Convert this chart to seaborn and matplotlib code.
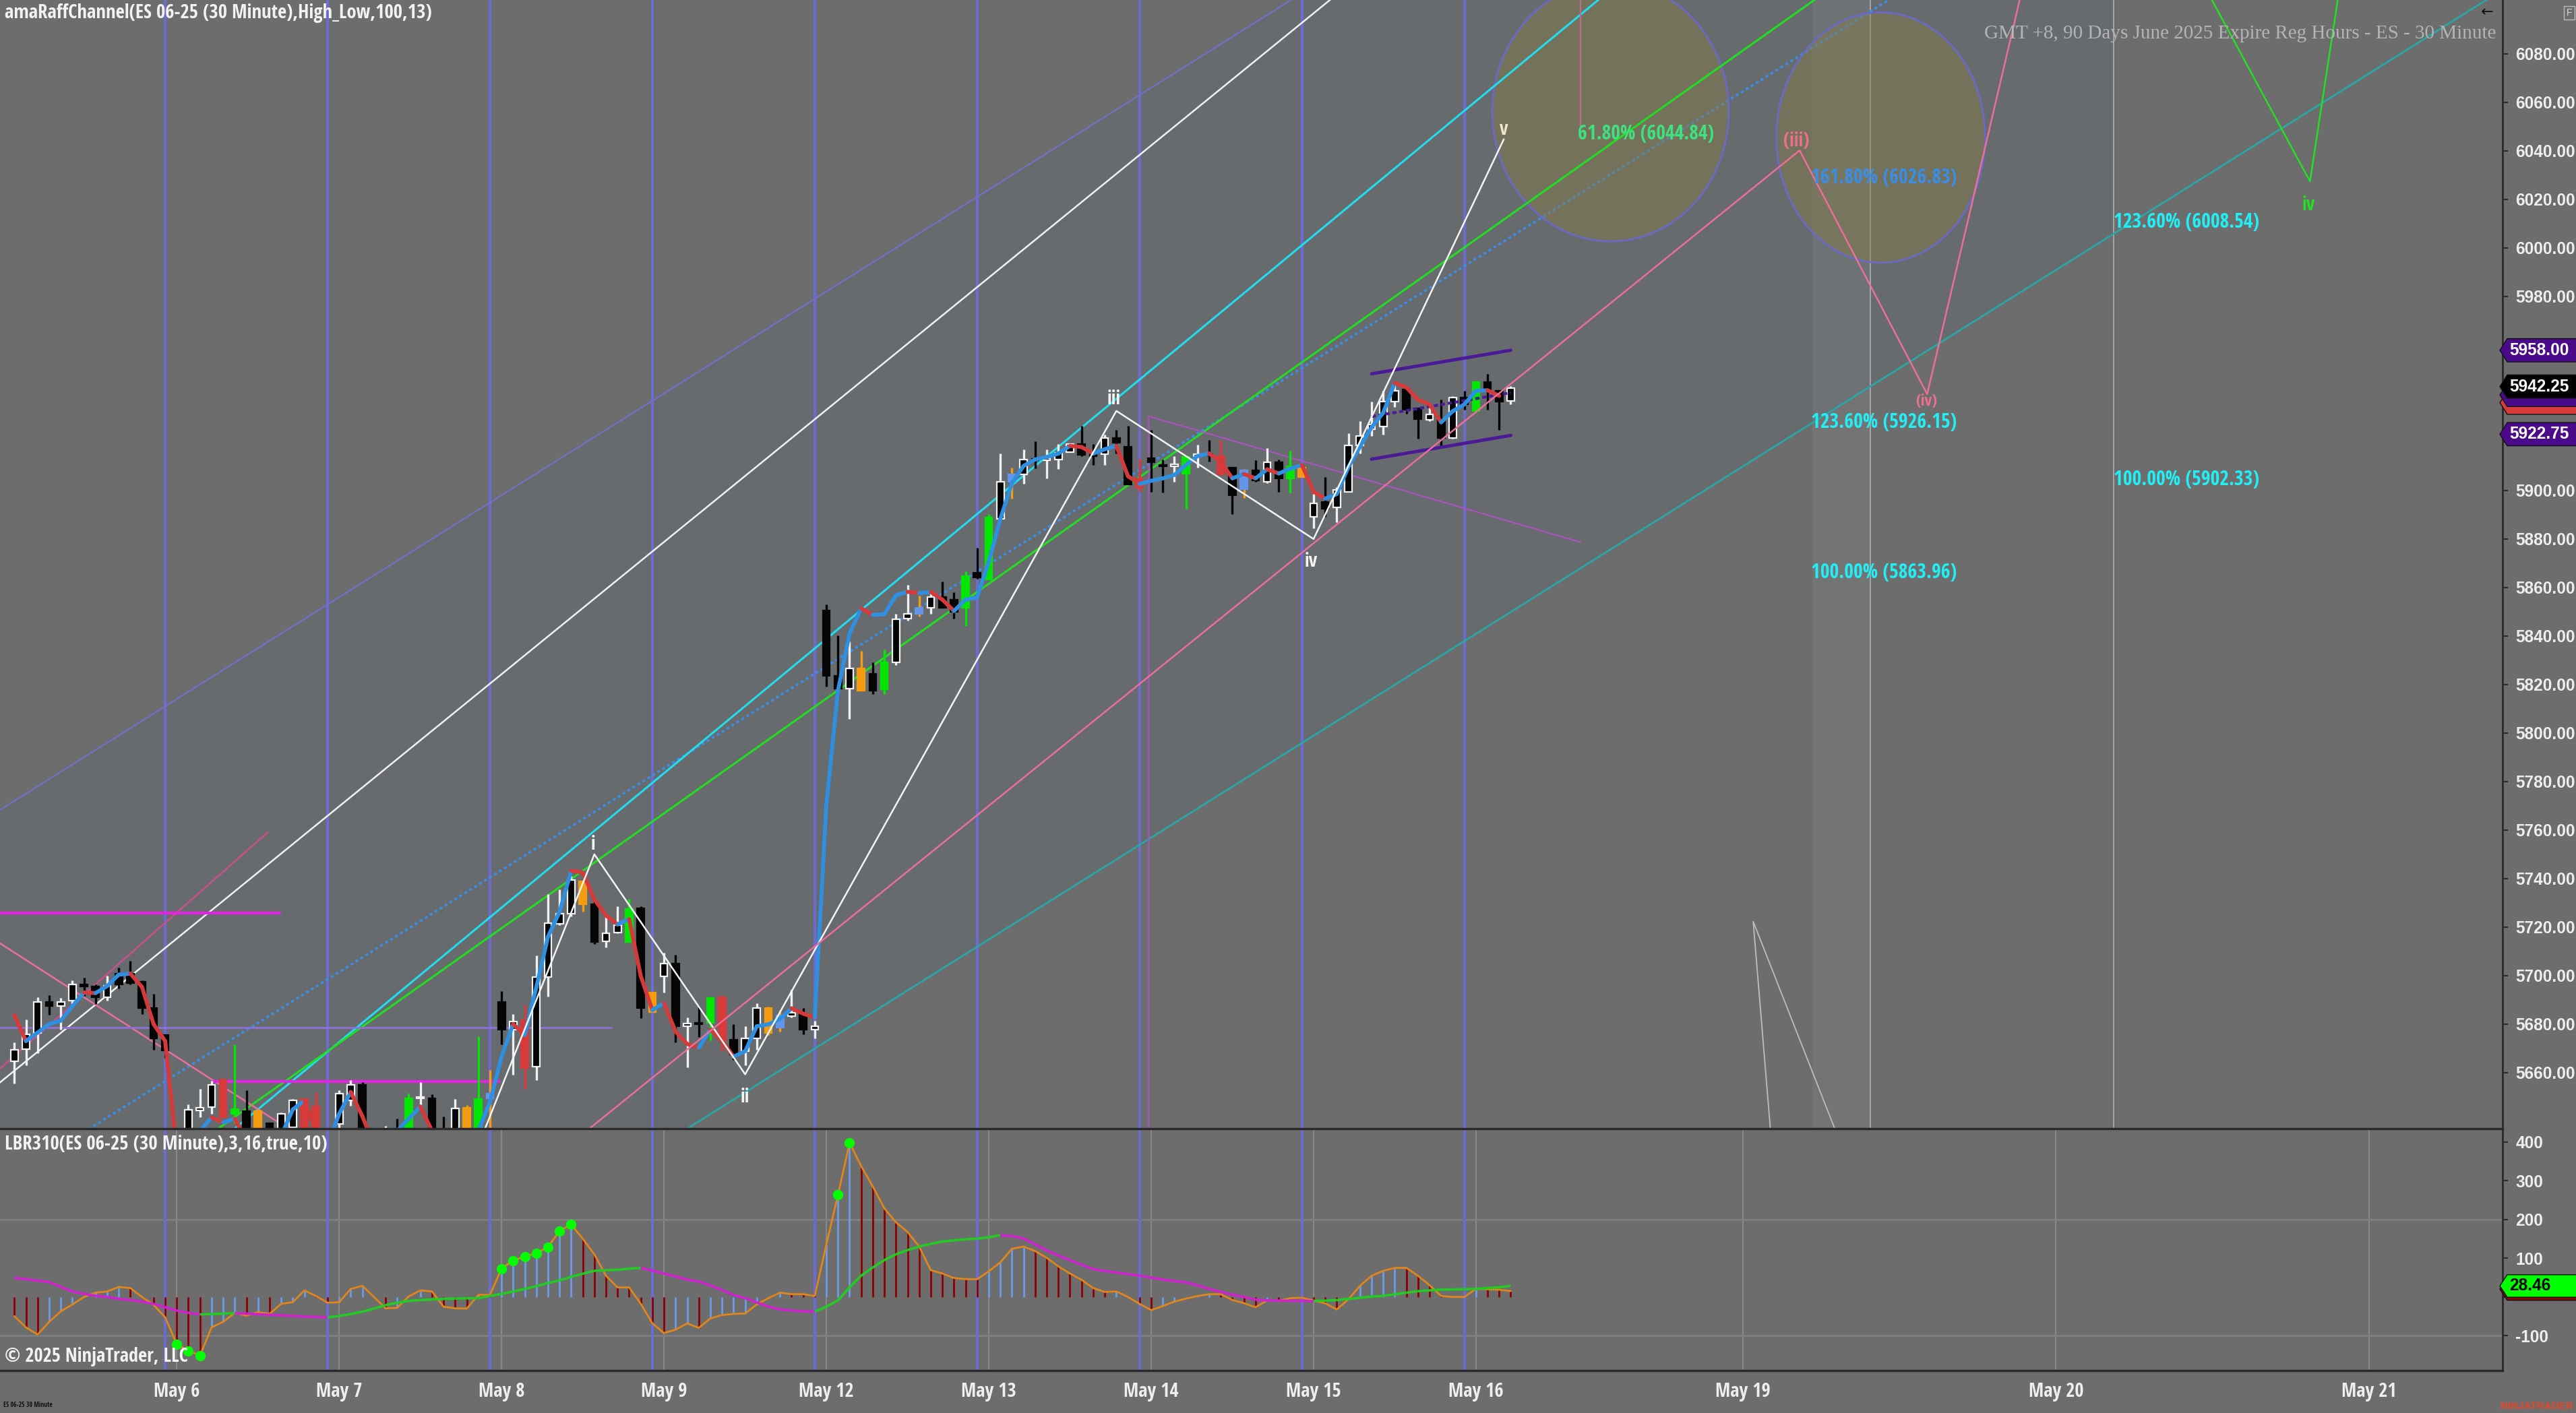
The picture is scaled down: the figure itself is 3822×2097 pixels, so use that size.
import numpy as np
import seaborn as sns
import matplotlib
matplotlib.use("Agg")
import matplotlib.pyplot as plt
import matplotlib.transforms as mtransforms
from matplotlib import font_manager
from matplotlib.font_manager import FontProperties
from matplotlib.collections import LineCollection
from matplotlib.patches import Ellipse, Polygon

# ES 06-25, 30 minute bars (RTH). bar index -13 .. 116, one row per session
FIRST_BAR = -13
OPEN = [5664.75, 5669.75, 5676.25, 5689.25, 5687.5, 5689.75, 5696.25, 5695.5, 5691, 5696.25, 5700.75, 5697.5, 5686.5, 5675.5,
        5632, 5622, 5644.5, 5645.75, 5657.25, 5643, 5644, 5634, 5639, 5630, 5637.5, 5649, 5646, 5634,
        5638.75, 5648.5, 5655, 5634, 5626, 5636, 5632, 5649.5, 5649.5, 5634, 5631, 5636, 5636, 5649.5,
        5689.25, 5677.75, 5681.5, 5662.5, 5699.5, 5721.25, 5725.5, 5738.75, 5729.5, 5714.25, 5717.75, 5713.75, 5727.75, 5693,
        5699.75, 5705, 5679.25, 5680.5, 5680.5, 5691, 5673.5, 5668.75, 5674, 5686.75, 5678.5, 5683.25, 5684.25, 5677.75,
        5850.5, 5823.5, 5818.25, 5826.5, 5824.5, 5818, 5829.25, 5847.25, 5849.25, 5851.5, 5856, 5855, 5851.5, 5866,
        5863.25, 5888.25, 5903.5, 5906.75, 5913, 5912.5, 5912.75, 5915.75, 5919.25, 5915, 5915, 5921.5, 5918, 5905,
        5913.25, 5910.5, 5910, 5907, 5914, 5915, 5914.25, 5909.5, 5900.5, 5908.25, 5903.5, 5911.5, 5905, 5909.5,
        5889.25, 5895.25, 5893, 5899.5, 5918.5, 5925.25, 5926.25, 5936.5, 5941.5, 5933.75, 5929, 5929, 5921.5, 5938.25,
        5932.75, 5944.75, 5941, 5937]
HIGH = [5672.5, 5682, 5691, 5692, 5690.75, 5698, 5699, 5696.25, 5700, 5703.25, 5706, 5698, 5692.5, 5675.5,
        5635, 5647, 5653.25, 5656.5, 5657.25, 5671.75, 5652.75, 5645, 5639.5, 5643.5, 5649, 5649.5, 5652, 5636,
        5652.75, 5657, 5656, 5636, 5638, 5641, 5651.25, 5656, 5651, 5642, 5649, 5646.75, 5675, 5661,
        5693.5, 5684.25, 5688, 5708.25, 5733.5, 5735.5, 5741, 5739.5, 5730.5, 5724, 5728.5, 5731.75, 5728.5, 5693,
        5709.5, 5708.5, 5682.75, 5687.25, 5691, 5692, 5680, 5679, 5688.5, 5687.25, 5685.75, 5694, 5686.75, 5681.25,
        5853, 5840.25, 5837.75, 5833.75, 5829.25, 5834.5, 5849.25, 5861, 5856.5, 5857.5, 5862.5, 5858, 5866.5, 5876.25,
        5890.25, 5915.25, 5909.5, 5917, 5920.25, 5917, 5919.25, 5919, 5926.75, 5919, 5923, 5925, 5926.75, 5913,
        5925, 5912.75, 5914.25, 5914.25, 5918.75, 5920.75, 5920.75, 5909.5, 5908.75, 5912.5, 5917.5, 5912.75, 5916.25, 5911,
        5898.5, 5905.5, 5901.25, 5923.5, 5928.5, 5936.5, 5941, 5944.25, 5942.5, 5934, 5934.5, 5937.5, 5938.75, 5941,
        5945.25, 5948, 5941, 5943]
LOW = [5655.5, 5663, 5668, 5683.75, 5677.75, 5687.5, 5691.5, 5688.25, 5689.75, 5694.75, 5696.25, 5684.25, 5669.5, 5666,
       5615, 5620, 5641.5, 5643, 5641.5, 5639.25, 5630, 5630, 5625, 5628, 5636, 5634, 5633, 5625,
       5634, 5646.25, 5630, 5622, 5624, 5625, 5630, 5645, 5630, 5628, 5629, 5634, 5634, 5636,
       5671.75, 5659.25, 5653.25, 5657, 5691.25, 5720.75, 5724.5, 5726.25, 5713, 5711.5, 5717.5, 5713.75, 5682.5, 5685,
       5693, 5672.5, 5662.25, 5674.75, 5673.25, 5668.75, 5665.25, 5663, 5669.5, 5675.5, 5677, 5682.75, 5675.75, 5674,
       5819, 5814.5, 5805.75, 5817.5, 5816, 5816, 5828, 5846.25, 5848, 5849.25, 5851.5, 5847.25, 5844, 5863.5,
       5863.25, 5887.75, 5896.5, 5902.75, 5909, 5905, 5908.75, 5915.75, 5914.25, 5910.5, 5910.5, 5915.25, 5902.5, 5899.5,
       5899.5, 5899, 5903.5, 5892.5, 5909.5, 5912, 5906.5, 5890.25, 5897, 5903.5, 5903, 5899.5, 5899, 5905.5,
       5884.5, 5889.25, 5887, 5899.5, 5915.25, 5922.5, 5923, 5934.5, 5931.5, 5921.25, 5928.5, 5917.5, 5921.25, 5933.25,
       5932.25, 5933.25, 5925, 5935.5]
CLOSE = [5669.5, 5675.75, 5689.25, 5687.5, 5689.25, 5696.25, 5695.5, 5691, 5695.75, 5700.75, 5697, 5686.5, 5674, 5669,
         5622, 5644.75, 5645.5, 5655, 5641.5, 5645, 5634, 5644, 5630, 5643, 5648.5, 5636, 5636, 5630,
         5651.25, 5655, 5634, 5626, 5636, 5630, 5649.5, 5650, 5634, 5631, 5645.25, 5645.5, 5649, 5651.25,
         5677.75, 5681, 5662, 5699.5, 5721.5, 5725.5, 5739.5, 5729.5, 5713.75, 5717.5, 5720.75, 5727.5, 5686.5, 5685,
         5705, 5679, 5680.25, 5680, 5690.75, 5673.25, 5667.5, 5674, 5686.75, 5676.25, 5683.5, 5684.75, 5677.75, 5679,
         5823.5, 5818.25, 5826.5, 5817.5, 5817.5, 5829, 5847, 5849, 5851.5, 5856, 5851.5, 5850, 5864.75, 5864,
         5888.75, 5903.5, 5906.75, 5912.75, 5912.5, 5913.25, 5915.5, 5919, 5914.75, 5914, 5921.5, 5919.75, 5902.5, 5901,
         5911.5, 5910, 5910.75, 5913.75, 5915, 5914.5, 5906.75, 5898, 5908.25, 5904, 5911.5, 5905, 5910, 5905.5,
         5894.75, 5892.5, 5900.25, 5918.5, 5922.5, 5927.25, 5936.5, 5941, 5933.25, 5929.5, 5931.25, 5921.5, 5938.25, 5935.5,
         5944.75, 5941.5, 5936.5, 5942.25]
# u = up, d = down, g/r/o = painted green/red/orange, b = cornflower body
BAR_KIND = ("uuuduuddudddd" "d"
            "duuurgdoduurrd"
            "uuddudgudduogb"
            "duruuuuoduugdo"
            "ududgrduuobudu"
            "dduodguubuddgd"
            "gubuduuudduddr"
            "ddugudrdbdudgo"
            "uduuuuuuddudud"
            "gddu")

# trend line drawn over the bars
TREND = [5683.7, 5673, 5676.5, 5680, 5681.4, 5687.4, 5693, 5692.8, 5695.7, 5700.4, 5700.8, 5695.3, 5680, 5673,
         5628, 5627, 5636, 5641.5, 5639.5, 5641, 5632, 5628, 5626, 5634, 5644.8, 5648.5, 5636, 5630,
         5643, 5652, 5642, 5630, 5628, 5636, 5641, 5646, 5636, 5630, 5629, 5628, 5636, 5648,
         5666.5, 5680, 5675.5, 5695.3, 5716, 5726.3, 5743.2, 5742.5, 5731.4, 5724.8, 5721.1, 5723.3, 5699.8, 5685.8,
         5688.7, 5676.9, 5671.8, 5670.3, 5677.7, 5673.2, 5666.6, 5668.8, 5679.1, 5679.9, 5682.1, 5686.5, 5684.3, 5682.8,
         5770.4, 5817.5, 5841, 5851.4, 5848.7, 5849, 5856.8, 5858.2, 5857.7, 5858.2, 5855, 5850.3, 5855, 5855.9,
         5870.7, 5888.3, 5903.1, 5910.1, 5912.8, 5913.8, 5915.2, 5918.4, 5917.9, 5915.2, 5917, 5918.4, 5905.9, 5902.7,
         5904, 5905, 5906.4, 5910.5, 5914.2, 5915.2, 5911.9, 5905, 5906.8, 5905, 5908.7, 5907, 5909, 5910.5,
         5899.5, 5896.6, 5898.5, 5909.6, 5918, 5926, 5932, 5944.3, 5942.5, 5937.4, 5935.5, 5928.1, 5932.7, 5935.5,
         5941.1, 5941.3, 5939, np.nan]

# LBR310 oscillator, its slow line and the signal dots
OSC = [-49.5, -78.5, -97, -64, -37, -19.4, 0, 11.3, 14.2, 25.8, 22.9, 0, -20.6, -52.5,
       -122, -139, -151, -78.5, -64, -41, -48.4, -39, -43.7, -17.7, -13.6, 17, 2.6, -14.8,
       -13.6, 21, 28.7, 0, -29.3, -28, 1.7, 17, 14.2, -25.2, -29.3, -29.9, 5.5, 5.5,
       73.3, 94.1, 104, 112.7, 128.9, 170.6, 186.8, 150.3, 109.8, 54.7, 24.6, 24.6, -17.7, -68.1,
       -93, -84.3, -68.1, -79.7, -55.3, -46.6, -43.7, -42.6, -19.4, -3, 11.3, 7.2, 7.2, 2.6,
       135.8, 263.3, 397.7, 337.5, 285.3, 228.6, 192.6, 167.7, 130, 69.2, 60.5, 48.9, 46, 46,
       66.3, 89.5, 124.3, 130, 118.5, 101, 79.1, 60.5, 44.3, 22.9, 13, 14.2, 0, -17.7,
       -33.9, -23.5, -12, -4.4, 2.6, 7.2, 7.2, -7.8, -16, -26.4, -9, -10.1, -3, -1.9,
       -9, -16.5, -32.2, -6.1, 28.7, 54.7, 67.5, 75, 75, 54.7, 30.4, 2.6, 0, 0,
       21.1, 20, 18.8, 15.3]
SLOW = [49, 46, 42, 38.5, 26, 14.2, 8, 3, 0, -5, -8, -12, -18, -26.4,
        -35, -41, -45, -44, -43, -42, -43, -44.5, -46, -47.5, -49, -50.5, -51.5, -52.5,
        -49, -44, -38, -30, -21, -15, -10, -8, -6.5, -5, -4, -3.5, -3, 2.6,
        8, 14, 21, 28, 36, 43, 52, 60, 67.5, 69, 70, 73, 75, 68,
        60.5, 53, 45, 40, 30, 18, 5, -3, -14, -25, -32, -35, -37, -38,
        -25, -9, 25, 55, 76, 95, 110, 121, 130, 137, 143, 146, 149, 150.5,
        154, 159.5, 157, 151, 136, 120, 107, 95, 83, 72, 67, 63, 59, 55,
        50, 45, 41, 37.5, 30, 21, 13, 6, 0, -7, -9, -9.5, -10, -10.2,
        -10.4, -9.5, -8, -5, -2, 1, 3, 7, 11, 15, 17, 19, 19.5, 20,
        21, 23, 25, 28.46]
DOT_BARS = [1, 2, 3, 29, 30, 31, 32, 33, 34, 35, 58, 59]

# x axis
DATE_LABELS = ["May 6", "May 7", "May 8", "May 9", "May 12", "May 13", "May 14", "May 15", "May 16",
               "May 19", "May 20", "May 21"]
DATE_BARS = [1, 15, 29, 43, 57, 71, 85, 99, 113, 136, 163, 190]
SESSION_BARS = [0, 14, 28, 42, 56, 70, 84, 98, 112]
PRICE_TICKS = [5660, 5680, 5700, 5720, 5740, 5760, 5780, 5800, 5820, 5840, 5860, 5880, 5900,
               5920, 5940, 5960, 5980, 6000, 6020, 6040, 6060, 6080]
HIDDEN_PRICE_TICKS = [5920, 5940, 5960]
OSC_TICKS = [400, 300, 200, 100, 0, -100]

# raff channel (two end points each)
RAFF_BARS = [-15, 202]
RAFF_UPPER = [5766, 6417]
RAFF_MID = [5611.5, 6262.5]
RAFF_LOWER = [5456.9, 6107.9]

# drawn trend lines: (bars, prices)
CYAN_LINE = ([5, 125], [5633, 6108])
GREEN_LINE = ([4, 143], [5635, 6105])
WHITE_LINE = ([-15, 101], [5653, 6104.5])
ORCHID_LINE = ([-14.3, 8.85], [5661.4, 5759.1])
PINK_DOWN_LINE = ([-14.3, 12], [5713.5, 5632.6])
VIOLET_LINE = ([84.8, 84.8, 122], [5625, 5930.6, 5878.7])
GRAY_V = ([138.5, 136.9, 144.5], [5630, 5722.3, 5630])
LEVEL_HI = (5725.7, -15, 10)
LEVEL_LO = (5656.3, 4, 28.9)
LEVEL_MID = (5678.5, -15, 38.5)

# elliott waves
WAVE_BARS = [27, 37, 50, 82, 99, 115.4]
WAVE_PRICES = [5630, 5750, 5659.3, 5932.8, 5880, 6044.8]
PINK_WAVE_BARS = [36, 140.9, 151.9, 160.5]
PINK_WAVE_PRICES = [5634.7, 6040.2, 5939.7, 6115]
GREEN_WAVE_BARS = [175, 184.9, 187.7]
GREEN_WAVE_PRICES = [6115, 6027.4, 6115]
WAVE_TEXT = ["i", "ii", "iii", "iv", "v", "(iii)", "(iv)", "iv"]
WAVE_TEXT_BARS = [36.9, 50, 81.8, 98.8, 115.4, 140.6, 151.8, 184.8]
WAVE_TEXT_PRICES = [5754.1, 5649.8, 5937.6, 5870.6, 6048.7, 6044, 5936.5, 6017.6]

# regression channel on the last bars
REG_BARS = [104, 116]
REG_UPPER = [5948.1, 5957.8]
REG_MID = [5930.5, 5940.3]
REG_LOWER = [5912.9, 5922.7]

# time/price targets
ZONE_CENTERS = [(124.6, 6056.2), (147.9, 6045.5)]
ZONE_HALF_BARS = [10.2, 9.0]
ZONE_HALF_PTS = [53.5, 51.6]
FIB_TEXT = ["61.80% (6044.84)", "161.80% (6026.83)", "123.60% (6008.54)",
            "123.60% (5926.15)", "100.00% (5902.33)", "100.00% (5863.96)"]
FIB_BARS = [121.8, 141.9, 168, 141.9, 168, 141.9]
FIB_PRICES = [6044.84, 6026.83, 6008.54, 5926.15, 5902.33, 5863.96]

LAST_PRICE = 5942.25
LAST_SLOW = 28.46

BG = "#6d6d6d"
sns.set_style("dark", {"axes.facecolor": BG, "figure.facecolor": BG})
plt.rcParams["font.family"] = ["Liberation Sans", "DejaVu Sans"]


def weight_num(w):
    if isinstance(w, (int, float)):
        return int(w)
    return {"bold": 700, "semibold": 600, "demibold": 600, "demi": 600, "heavy": 800,
            "extra bold": 800, "black": 900, "medium": 500}.get(str(w).lower(), 400)


def narrow_bold():
    # the chart uses a condensed bold face; take the first one installed as a static bold file
    prefs = ["Open Sans Condensed", "Roboto Condensed", "Fira Sans Condensed", "IBM Plex Sans Condensed",
             "Barlow Semi Condensed", "PT Sans Narrow", "Archivo Narrow", "Encode Sans Condensed",
             "Asap Condensed", "Saira SemiCondensed", "Liberation Sans Narrow"]
    fonts = font_manager.fontManager.ttflist
    for name in prefs:
        cands = [(abs(weight_num(f.weight) - 700), f.fname) for f in fonts
                 if f.name == name and f.style == "normal" and weight_num(f.weight) >= 600 and "[" not in f.fname]
        if cands:
            return FontProperties(fname=sorted(cands)[0][1])
    return FontProperties(family="Liberation Sans", weight="bold")


NARROW_FP = narrow_bold()

W, H = 3823, 2097
fig = plt.figure(figsize=(W / 100, H / 100), dpi=100)
fig.patch.set_facecolor(BG)
renderer = fig.canvas.get_renderer()


def sized(fp, size):
    p = fp.copy()
    p.set_size(size)
    return p


def fit_fp(text, width_px, fp, base=20):
    t = fig.text(0, 0, text, fontproperties=sized(fp, base))
    w = t.get_window_extent(renderer).width
    t.remove()
    return sized(fp, base * width_px / w)


TICK_FP = FontProperties(family="Liberation Sans", weight="bold")
SERIF_FP = FontProperties(family=["Liberation Serif", "DejaVu Serif"])
FP_TITLE = fit_fp("amaRaffChannel(ES 06-25 (30 Minute),High_Low,100,13)", 636, NARROW_FP)
FP_PANEL = fit_fp("LBR310(ES 06-25 (30 Minute),3,16,true,10)", 480, NARROW_FP)
FP_COPY = fit_fp("\u00a9 2025 NinjaTrader, LLC", 272, NARROW_FP)
FP_DATE = fit_fp("May 12", 82, NARROW_FP)
FP_FIB = fit_fp("123.60% (6008.54)", 216, NARROW_FP)
FP_WAVE = fit_fp("iii", 20, NARROW_FP)
FP_WAVE_SMALL = sized(FP_WAVE, FP_WAVE.get_size() * 0.85)
FP_GMT = fit_fp("GMT +8, 90 Days June 2025 Expire Reg Hours - ES - 30 Minute", 760, SERIF_FP)
FP_TICK = fit_fp("6080.00", 89, TICK_FP)
FP_SMALL = sized(NARROW_FP, 7)

ax = fig.add_axes([0, 1 - 1675 / H, 3713 / W, 1675 / H])
axi = fig.add_axes([0, 1 - 2034 / H, 3713 / W, (2034 - 1675) / H], sharex=ax)
XMIN, XMAX = -14.24, 201.5

bars = np.arange(FIRST_BAR, FIRST_BAR + len(OPEN))
o, h, l, c = (np.array(v, dtype=float) for v in (OPEN, HIGH, LOW, CLOSE))

# --- background pieces ---
fill_x = np.array([RAFF_BARS[0], 168])
ax.fill_between(fill_x, np.interp(fill_x, RAFF_BARS, RAFF_LOWER), np.interp(fill_x, RAFF_BARS, RAFF_UPPER),
                color="#4f6372", alpha=0.2, lw=0, zorder=0)
ax.axvspan(142, 147, color="white", alpha=0.05, lw=0, zorder=0)
for xv in (147, 168):
    ax.axvline(xv, color="#a6a6a6", lw=1.4, zorder=1)
for xv in DATE_BARS:
    axi.axvline(xv, color="#8e8e8e", lw=1.2, zorder=0)
for xv in SESSION_BARS:
    ax.axvline(xv, color="#6b6bd0", lw=3, zorder=1)
    axi.axvline(xv, color="#6b6bd0", lw=3, zorder=1)

# --- channel and drawn lines ---
ax.plot(RAFF_BARS, RAFF_UPPER, color="#7070c8", lw=1.6, zorder=2)
ax.plot(RAFF_BARS, RAFF_MID, color="#3a8ee6", lw=2.6, ls=(0, (1.2, 1.2)), zorder=2)
ax.plot(RAFF_BARS, RAFF_LOWER, color="#2aa6a6", lw=2.0, zorder=2)
ax.plot(*CYAN_LINE, color="#22dcf0", lw=2.2, zorder=3)
ax.plot(*GREEN_LINE, color="#22dd22", lw=2.2, zorder=3)
ax.plot(*WHITE_LINE, color="#f2f2f2", lw=1.8, zorder=3)
ax.plot(*ORCHID_LINE, color="#c8508c", lw=1.8, zorder=3)
ax.plot(*PINK_DOWN_LINE, color="#e8709a", lw=1.8, zorder=3)
ax.plot(*VIOLET_LINE, color="#b050c8", lw=1.4, zorder=3)
ax.plot(*GRAY_V, color="#bdbdbd", lw=1.3, zorder=3)
ax.plot([122, 122], [6046, 6110], color="#c06a8c", lw=1.5, zorder=3)
ax.hlines(LEVEL_HI[0], LEVEL_HI[1], LEVEL_HI[2], color="#e622e6", lw=3, zorder=3)
ax.hlines(LEVEL_LO[0], LEVEL_LO[1], LEVEL_LO[2], color="#e622e6", lw=3, zorder=3)
ax.hlines(LEVEL_MID[0], LEVEL_MID[1], LEVEL_MID[2], color="#9070d8", lw=2, zorder=3)

for (cx, cy), hw, hh in zip(ZONE_CENTERS, ZONE_HALF_BARS, ZONE_HALF_PTS):
    ax.add_patch(Ellipse((cx, cy), 2 * hw, 2 * hh, facecolor=(0.54, 0.49, 0.27, 0.42),
                         edgecolor="#6a6ac4", lw=2, zorder=2))

# --- candles ---
face = {"u": "#050505", "d": "#050505", "g": "#00e600", "r": "#d63a3a", "o": "#f39c12", "b": "#6495ed"}
edge = {"u": "#f0f0f0", "d": "#050505", "g": "#00e600", "r": "#d63a3a", "o": "#f39c12", "b": "#6495ed"}
wick = {"u": "#f0f0f0", "d": "#050505", "g": "#00e600", "r": "#d63a3a", "o": "#f39c12", "b": "#f39c12"}
kinds = list(BAR_KIND)
ax.vlines(bars, l, h, colors=[wick[k] for k in kinds], lw=2.4, zorder=5)
ax.bar(bars, np.maximum(np.abs(c - o), 0.5), bottom=np.minimum(o, c), width=0.62,
       color=[face[k] for k in kinds], edgecolor=[edge[k] for k in kinds], linewidth=1.6, zorder=6)

# trend line coloured by slope
tr = np.array(TREND, dtype=float)
segs, cols = [], []
for i in range(len(tr) - 1):
    if np.isnan(tr[i + 1]):
        continue
    segs.append([(bars[i], tr[i]), (bars[i + 1], tr[i + 1])])
    cols.append("#2f8fe0" if tr[i + 1] > tr[i] else "#d43a3a")
ax.add_collection(LineCollection(segs, colors=cols, linewidths=4.2, zorder=8, capstyle="round"))

# waves
sns.lineplot(x=WAVE_BARS, y=WAVE_PRICES, ax=ax, color="#f4f4f4", lw=1.8, sort=False, estimator=None, zorder=9)
sns.lineplot(x=PINK_WAVE_BARS, y=PINK_WAVE_PRICES, ax=ax, color="#ea6f9a", lw=1.8, sort=False, estimator=None, zorder=9)
sns.lineplot(x=GREEN_WAVE_BARS, y=GREEN_WAVE_PRICES, ax=ax, color="#22e022", lw=1.8, sort=False, estimator=None, zorder=9)
wave_colors = ["#f4f4f4"] * 4 + ["#efe6cc", "#ec6f8c", "#ec6f8c", "#22e022"]
for t, xb, yp, col in zip(WAVE_TEXT, WAVE_TEXT_BARS, WAVE_TEXT_PRICES, wave_colors):
    fp = FP_WAVE_SMALL if t == "(iv)" else FP_WAVE
    ax.text(xb, yp, t, color=col, fontproperties=fp, ha="center", va="center", zorder=10)

# regression channel
ax.plot(REG_BARS, REG_UPPER, color="#4b1a96", lw=3.5, zorder=7)
ax.plot(REG_BARS, REG_LOWER, color="#4b1a96", lw=3.5, zorder=7)
ax.plot(REG_BARS, REG_MID, color="#4b1a96", lw=3.0, ls=(0, (1.5, 1)), zorder=7)

fib_colors = ["#3fe07e", "#3a8ee6", "#22eef5", "#22eef5", "#22eef5", "#22eef5"]
for t, xb, yp, col in zip(FIB_TEXT, FIB_BARS, FIB_PRICES, fib_colors):
    ax.text(xb, yp + 2.0, t, color=col, fontproperties=FP_FIB, ha="left", va="center", zorder=10)

# --- oscillator panel ---
osc = np.array(OSC, dtype=float)
up = np.r_[False, osc[1:] > osc[:-1]]
axi.axhline(200, color="#7f7f7f", lw=2, zorder=0)
axi.axhline(-100, color="#7f7f7f", lw=2, zorder=0)
axi.vlines(bars, 0, osc, colors=np.where(up, "#6d9be8", "#8b0000"), lw=2.0, zorder=3)
sns.lineplot(x=bars, y=osc, ax=axi, color="#e0861a", lw=2.0, estimator=None, zorder=4)
slow = np.array(SLOW, dtype=float)
ssegs = [[(bars[i], slow[i]), (bars[i + 1], slow[i + 1])] for i in range(len(slow) - 1)]
scols = ["#22cc22" if slow[i + 1] > slow[i] else "#d020d0" for i in range(len(slow) - 1)]
axi.add_collection(LineCollection(ssegs, colors=scols, linewidths=2.6, zorder=5))
dots = np.isin(bars, DOT_BARS)
axi.plot(bars[dots], osc[dots], ls="none", marker="o", ms=10, mfc="#00ff00", mec="#00ff00", zorder=6)

# --- axes ---
for a in (ax, axi):
    a.grid(False)
    a.set_facecolor(BG)
    for s in ("left", "top", "bottom"):
        a.spines[s].set_visible(False)
    a.spines["right"].set_color("#2a2a2a")
    a.spines["right"].set_linewidth(2)
    a.yaxis.tick_right()
    a.tick_params(axis="y", direction="out", length=6, width=1.5, color="#2a2a2a",
                  labelcolor="#eeeeee", pad=8)
axi.spines["top"].set_visible(True)
axi.spines["bottom"].set_visible(True)
for s in ("top", "bottom"):
    axi.spines[s].set_color("#2a2a2a")
    axi.spines[s].set_linewidth(2.5)

ax.set_yticks(PRICE_TICKS)
ax.set_yticklabels(["" if v in HIDDEN_PRICE_TICKS else f"{v:.2f}" for v in PRICE_TICKS])
axi.set_yticks(OSC_TICKS)
axi.set_yticklabels(["" if v == 0 else str(v) for v in OSC_TICKS])
for lab in ax.get_yticklabels() + axi.get_yticklabels():
    lab.set_fontproperties(FP_TICK)
ax.tick_params(axis="x", bottom=False, labelbottom=False)
axi.set_xticks(DATE_BARS)
axi.set_xticklabels(DATE_LABELS)
axi.tick_params(axis="x", direction="out", length=6, width=1.5, color="#2a2a2a",
                labelcolor="#eeeeee", pad=6)
for lab in axi.get_xticklabels():
    lab.set_fontproperties(FP_DATE)
for a in (ax, axi):
    a.set_xlabel("")
    a.set_ylabel("")


def price_tag(a, y, text, fc, fg, half):
    trans = mtransforms.blended_transform_factory(fig.transFigure, a.transData)
    x0, x1 = 3709 / W, 3720 / W
    a.add_patch(Polygon([[x0, y], [x1, y + half], [1.0, y + half], [1.0, y - half], [x1, y - half]],
                        closed=True, transform=trans, fc=fc, ec="#111111", lw=1, clip_on=False, zorder=20))
    if text:
        a.text(3723 / W, y, text, transform=trans, color=fg, fontproperties=FP_TICK,
               ha="left", va="center", clip_on=False, zorder=21)


price_tag(ax, REG_UPPER[1], f"{REG_UPPER[1] + 0.2:.2f}", "#4b0a8a", "white", 4.8)
price_tag(ax, 5936.2, "", "#d63a3a", "white", 4.8)
price_tag(ax, 5939.4, "", "#4b0a8a", "white", 4.8)
price_tag(ax, LAST_PRICE + 0.6, f"{LAST_PRICE:.2f}", "#000000", "white", 4.8)
price_tag(ax, REG_LOWER[1] + 0.5, f"{REG_LOWER[1] + 0.05:.2f}", "#4b0a8a", "white", 4.8)
price_tag(axi, LAST_SLOW - 8, "", "#8b0000", "white", 29)
price_tag(axi, LAST_SLOW, f"{LAST_SLOW:.2f}", "#00ff00", "black", 29)
ax.set_xlim(XMIN, XMAX)
ax.set_ylim(5636.9, 6102.2)
axi.set_ylim(-189.8, 434.2)

# --- texts ---
fig.text(7 / W, 1 - 20 / H, "amaRaffChannel(ES 06-25 (30 Minute),High_Low,100,13)", color="#f2f2f2",
         fontproperties=FP_TITLE, ha="left", va="center")
fig.text(7 / W, 1 - 1698 / H, "LBR310(ES 06-25 (30 Minute),3,16,true,10)", color="#f2f2f2",
         fontproperties=FP_PANEL, ha="left", va="center")
fig.text(7 / W, 1 - 2013 / H, "\u00a9 2025 NinjaTrader, LLC", color="#f2f2f2",
         fontproperties=FP_COPY, ha="left", va="center")
fig.text(3703 / W, 1 - 50 / H, "GMT +8, 90 Days June 2025 Expire Reg Hours - ES - 30 Minute", color="#b4b4b4",
         fontproperties=FP_GMT, ha="right", va="center")
fig.text(3700 / W, 1 - 18 / H, "\u2190", color="#111111", fontsize=16, family="DejaVu Sans", ha="right", va="center")
fig.text(3812 / W, 1 - 19 / H, "F", color="#dddddd", fontsize=10, ha="center", va="center",
         bbox=dict(boxstyle="square,pad=0.25", fc=BG, ec="#bbbbbb", lw=1))
fig.text(5 / W, 1 - 2086 / H, "ES 06-25 30 Minute", color="#111111", fontproperties=FP_SMALL,
         ha="left", va="center")
fig.text(3818 / W, 1 - 2087 / H, "NINJATRADER", color="#e8452a", fontsize=11, fontweight="bold",
         ha="right", va="center")

fig.savefig("out.png", dpi=100, facecolor=BG)
